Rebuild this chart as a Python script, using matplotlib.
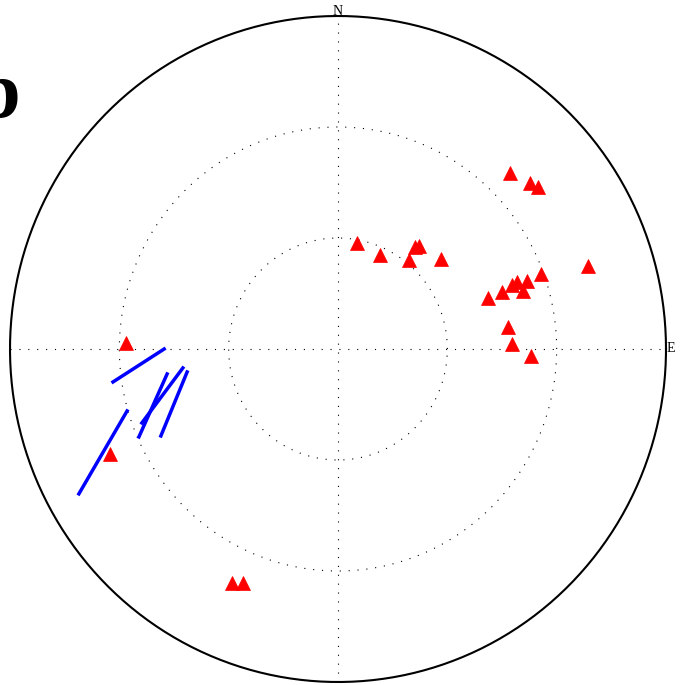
import numpy as np
import matplotlib
matplotlib.use("Agg")
import matplotlib.pyplot as plt

# projected positions inside the unit net (x = east, y = north)
tri_x = [0.058, 0.128, 0.235, 0.247, 0.216, 0.314, 0.524, 0.585, 0.610, 0.762,
         0.619, 0.546, 0.530, 0.576, 0.564, 0.500, 0.457, 0.518, 0.530, 0.588,
         -0.323, -0.290, -0.646, -0.695]
tri_y = [0.318, 0.282, 0.306, 0.309, 0.267, 0.270, 0.529, 0.498, 0.486, 0.249,
         0.225, 0.201, 0.192, 0.204, 0.174, 0.171, 0.153, 0.066, 0.015, -0.021,
         -0.703, -0.703, 0.018, -0.315]

# blue segments: start and end points
seg_x0 = [-0.686, -0.521, -0.473, -0.460, -0.643]
seg_y0 = [-0.099, -0.075, -0.057, -0.069, -0.186]
seg_x1 = [-0.530, -0.607, -0.598, -0.540, -0.790]
seg_y1 = [0.000, -0.264, -0.222, -0.261, -0.435]

grid_r = [1 / 3, 2 / 3]

W, H = 693, 685
fig = plt.figure(figsize=(W / 100, H / 100), dpi=100)
ax = fig.add_axes([10 / W, 3 / H, 656 / W, 666 / H])
ax.set_xlim(-1, 1)
ax.set_ylim(-1, 1)
ax.axis("off")

dots = (0, (1, 7))
t = np.linspace(0, 2 * np.pi, 400)
for r in grid_r:
    ax.plot(r * np.cos(t), r * np.sin(t), color="black", lw=0.8, ls=dots, zorder=1)
ax.plot([-1, 1], [0, 0], color="black", lw=0.8, ls=dots, zorder=1)
ax.plot([0, 0], [-1, 1], color="black", lw=0.8, ls=dots, zorder=1)
ax.plot(np.cos(t), np.sin(t), color="black", lw=1.5, zorder=2, clip_on=False)

for x0, y0, x1, y1 in zip(seg_x0, seg_y0, seg_x1, seg_y1):
    ax.plot([x0, x1], [y0, y1], color="blue", lw=2.5, zorder=3)

ax.plot(tri_x, tri_y, ls="none", marker="^", ms=9.5, color="red",
        mec="red", mew=0.5, zorder=4)

ax.text(0, 0.995, "N", ha="center", va="bottom", fontsize=10,
        family="Liberation Serif")
ax.text(1.003, 0, "E", ha="left", va="center", fontsize=10,
        family="Liberation Serif")

fig.text(-0.035, 0.829, "b", ha="left", va="baseline", fontsize=58,
         fontweight="bold", family="Liberation Serif")

fig.savefig("out.png", dpi=100)
